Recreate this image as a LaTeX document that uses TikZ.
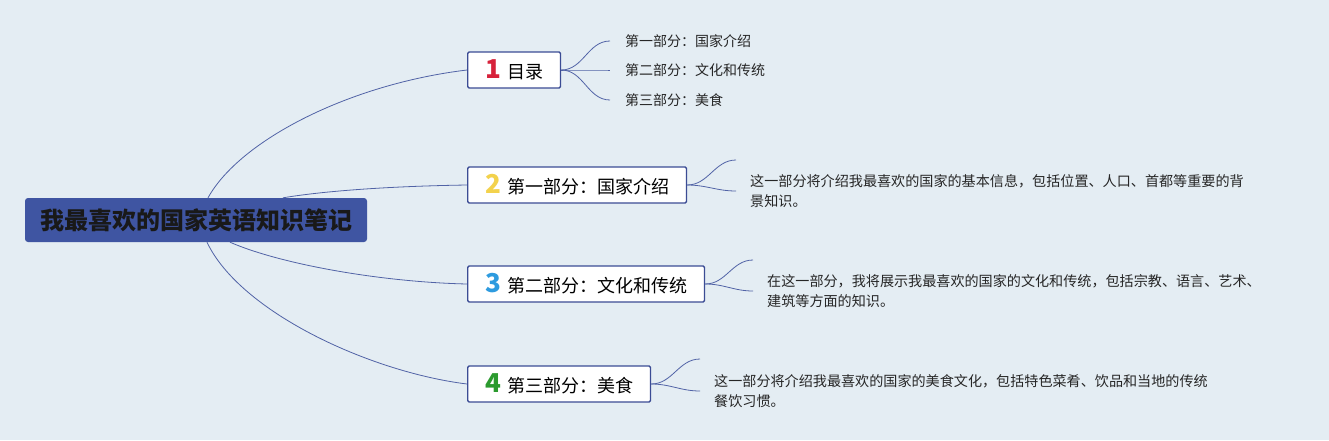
\documentclass[tikz,border=0pt]{standalone}
\usepackage{fontspec}
\setmainfont{Noto Sans CJK SC}
\usepackage{xcolor}
\usetikzlibrary{positioning}
\definecolor{bgblue}{HTML}{E4EDF3}
\definecolor{rootblue}{HTML}{3F55A2}
\definecolor{edgeblue}{HTML}{3B4C94}
\definecolor{linkblue}{HTML}{5163A6}
\definecolor{numred}{HTML}{D7223B}
\definecolor{numyellow}{HTML}{F3D24C}
\definecolor{numblue}{HTML}{2E9BDF}
\definecolor{numgreen}{HTML}{2B9A2E}
\newcommand{\secnum}[2]{{\fontsize{26}{26}\bfseries\color{#1}#2}\hspace{6pt}}

\begin{document}
\begin{tikzpicture}[x=1pt, y=-1pt,
  root/.style={fill=rootblue, rounded corners=3pt, minimum width=342pt, minimum height=44pt, inner sep=0pt, font=\fontsize{24}{24}\bfseries, text=black!90},
  branch/.style={draw=edgeblue, line width=1.4pt, rounded corners=1.5pt, fill=white, anchor=west, minimum height=36pt, inner xsep=17.5pt, inner ysep=2pt, font=\fontsize{18}{18}\selectfont},
  leaf/.style={anchor=west, inner xsep=15pt, inner ysep=0pt, font=\fontsize{14}{20}\selectfont, text=black!85},
  note/.style={anchor=west, inner xsep=14pt, inner ysep=0pt, align=left, font=\fontsize{14.1}{20.5}\selectfont, text=black!85},
  link/.style={draw=linkblue, line width=0.8pt}]
  \fill[bgblue] (0,0) rectangle (1329,440);
  \useasboundingbox (0,0) rectangle (1329,440);

  \node[root] (root) at (196,220) {我最喜欢的国家英语知识笔记};

  \node[branch] (toc) at (467,70) {\secnum{numred}{1}目录};
  \node[branch] (partA) at (467,185) {\secnum{numyellow}{2}第一部分：国家介绍};
  \node[branch] (partB) at (467,284) {\secnum{numblue}{3}第二部分：文化和传统};
  \node[branch] (partC) at (467,384) {\secnum{numgreen}{4}第三部分：美食};

  % table of contents
  \node[leaf] (tocA) at (610,41) {第一部分：国家介绍};
  \node[leaf] (tocB) at (610,70) {第二部分：文化和传统};
  \node[leaf] (tocC) at (610,100) {第三部分：美食};

  % notes
  \node[note] (noteA) at (736,191) {这一部分将介绍我最喜欢的国家的基本信息，包括位置、人口、首都等重要的背\\景知识。};
  \node[note] (noteB) at (753,291) {在这一部分，我将展示我最喜欢的国家的文化和传统，包括宗教、语言、艺术、\\建筑等方面的知识。};
  \node[note] (noteC) at (700,391) {这一部分将介绍我最喜欢的国家的美食文化，包括特色菜肴、饮品和当地的传统\\餐饮习惯。};
  \coordinate (tipA) at (736,160);
  \coordinate (tipB) at (753,260);
  \coordinate (tipC) at (700,359);

  \draw[link] ([xshift=12pt]root.north) .. controls (240,140) and (350,84) .. (toc.west);
  \draw[link] ([xshift=87pt]root.north) .. controls (330,190) and (400,186) .. (partA.west);
  \draw[link] ([xshift=34pt]root.south) .. controls (280,264) and (380,282) .. (partB.west);
  \draw[link] ([xshift=11pt]root.south) .. controls (240,312) and (370,372) .. (partC.west);

  \foreach \t in {tocA,tocB,tocC}
    \draw[link] (toc.east) to[out=0, in=180] (\t.west);
  \draw[link] (partA.east) to[out=0, in=180] (tipA);
  \draw[link] (partA.east) to[out=0, in=180] (noteA.west);
  \draw[link] (partB.east) to[out=0, in=180] (tipB);
  \draw[link] (partB.east) to[out=0, in=180] (noteB.west);
  \draw[link] (partC.east) to[out=0, in=180] (tipC);
  \draw[link] (partC.east) to[out=0, in=180] (noteC.west);
\end{tikzpicture}
\end{document}
